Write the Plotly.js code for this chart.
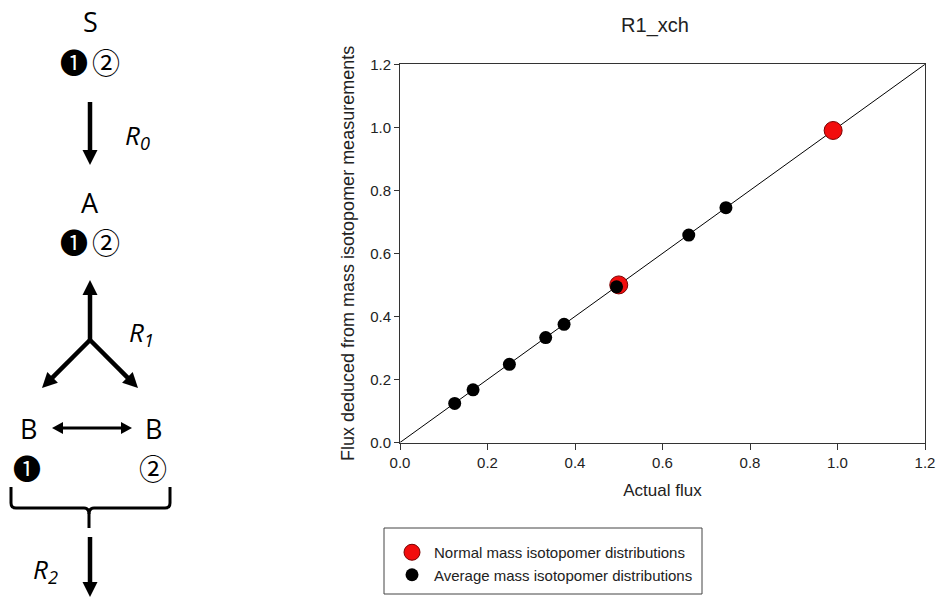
<!DOCTYPE html>
<html>
<head>
<meta charset="utf-8">
<script src="https://cdn.plot.ly/plotly-3.0.1.min.js"></script>
<style>html,body{margin:0;padding:0;background:#fff;}#chart{width:937px;height:598px;}</style>
</head>
<body>
<div id="chart"></div>
<script>
// ---- data ----
const normalActual = [0.50, 0.99];
const normalDeduced = [0.50, 0.99];
const averageActual = [0.125, 0.167, 0.25, 0.333, 0.375, 0.495, 0.66, 0.745];
const averageDeduced = [0.124, 0.167, 0.248, 0.333, 0.375, 0.494, 0.658, 0.745];
const identityLine = [0, 1.2];
const tickValues = [0, 0.2, 0.4, 0.6, 0.8, 1.0, 1.2];
const tickLabels = ['0.0', '0.2', '0.4', '0.6', '0.8', '1.0', '1.2'];
const seriesNames = ['Normal mass isotopomer distributions', 'Average mass isotopomer distributions'];

// ---- helpers for the pathway diagram (pixel -> paper) ----
const W = 937, H = 598;
const px = x => x / W, py = y => 1 - y / H;
function seg(x1, y1, x2, y2, w) {
  return {type: 'line', xref: 'paper', yref: 'paper', x0: px(x1), y0: py(y1), x1: px(x2), y1: py(y2),
          line: {color: '#000', width: w}, layer: 'above'};
}
function tri(xt, yt, dx, dy, len, hw) {
  const bx = xt - dx * len, by = yt - dy * len, nx = -dy, ny = dx;
  const a = [bx + nx * hw / 2, by + ny * hw / 2], b = [bx - nx * hw / 2, by - ny * hw / 2];
  return {type: 'path', xref: 'paper', yref: 'paper',
          path: `M${px(xt)},${py(yt)} L${px(a[0])},${py(a[1])} L${px(b[0])},${py(b[1])} Z`,
          fillcolor: '#000', line: {color: '#000', width: 0}, layer: 'above'};
}
function arrow(x1, y1, x2, y2, w, len, hw, both) {
  const L = Math.hypot(x2 - x1, y2 - y1), dx = (x2 - x1) / L, dy = (y2 - y1) / L;
  const out = [];
  const sx = both ? x1 + dx * (len - 1) : x1, sy = both ? y1 + dy * (len - 1) : y1;
  out.push(seg(sx, sy, x2 - dx * (len - 1), y2 - dy * (len - 1), w));
  out.push(tri(x2, y2, dx, dy, len, hw));
  if (both) out.push(tri(x1, y1, -dx, -dy, len, hw));
  return out;
}
function txt(x, y, text, size, family, extra) {
  return Object.assign({xref: 'paper', yref: 'paper', x: px(x), y: py(y), text: text, showarrow: false,
          xanchor: 'center', yanchor: 'middle', font: {family: family, size: size, color: '#000'}}, extra || {});
}
const DF = 'Open Sans, Noto Sans, sans-serif';
const CF = 'Noto Sans CJK JP, DejaVu Sans, sans-serif';

let shapes = [];
shapes = shapes.concat(arrow(90, 102, 90, 165, 4.5, 15, 15));
shapes = shapes.concat(arrow(90, 341, 90, 280, 4.5, 15, 15));
shapes = shapes.concat(arrow(90, 340, 42, 388, 4.5, 15, 15));
shapes = shapes.concat(arrow(90, 340, 138, 388, 4.5, 15, 15));
shapes = shapes.concat(arrow(52, 428, 132, 428, 3, 11, 12, true));
shapes = shapes.concat(arrow(90, 537, 90, 597, 4.5, 15, 15));
// brace
shapes.push({type: 'path', xref: 'paper', yref: 'paper', layer: 'above',
  path: `M${px(11)},${py(487)} L${px(11)},${py(503)} Q${px(11)},${py(508)} ${px(16)},${py(508)} L${px(84)},${py(508)} Q${px(89)},${py(508)} ${px(89)},${py(514)} L${px(89)},${py(528)}`,
  line: {color: '#000', width: 3}});
shapes.push({type: 'path', xref: 'paper', yref: 'paper', layer: 'above',
  path: `M${px(170)},${py(487)} L${px(170)},${py(503)} Q${px(170)},${py(508)} ${px(165)},${py(508)} L${px(94)},${py(508)} Q${px(89)},${py(508)} ${px(89)},${py(514)}`,
  line: {color: '#000', width: 3}});
// legend box
shapes.push({type: 'rect', xref: 'paper', yref: 'paper', x0: px(384), y0: py(528), x1: px(702), y1: py(594),
  line: {color: '#444', width: 1}, fillcolor: 'rgba(0,0,0,0)'});

const annotations = [
  txt(90, 22, 'S', 27, DF),
  txt(74, 62, '\u2776', 28, CF), txt(106, 62, '\u2461', 28, CF),
  txt(137, 136, '<i>R<sub>0</sub></i>', 26, DF),
  txt(90, 202, 'A', 27, DF),
  txt(74, 242, '\u2776', 28, CF), txt(106, 242, '\u2461', 28, CF),
  txt(141, 333, '<i>R<sub>1</sub></i>', 26, DF),
  txt(28, 428, 'B', 27, DF), txt(153, 428, 'B', 27, DF),
  txt(27, 468, '\u2776', 28, CF), txt(153, 468, '\u2461', 28, CF),
  txt(45, 570, '<i>R<sub>2</sub></i>', 26, DF)
];

const PF = 'Liberation Sans, Arial, sans-serif';
const traces = [
  {x: identityLine, y: identityLine, type: 'scatter', mode: 'lines', showlegend: false, hoverinfo: 'skip',
   line: {color: '#000', width: 1}},
  {x: normalActual, y: normalDeduced, type: 'scatter', mode: 'markers', name: seriesNames[0], legendgroup: 'a',
   marker: {color: '#f20d0d', size: 18, line: {color: '#7a0000', width: 1}}},
  {x: averageActual, y: averageDeduced, type: 'scatter', mode: 'markers', name: seriesNames[1], legendgroup: 'b',
   marker: {color: '#000', size: 13, line: {color: '#000', width: 0}}}
];

const axisCommon = {
  range: [0, 1.2], tickmode: 'array', tickvals: tickValues, ticktext: tickLabels,
  showgrid: false, zeroline: false, showline: true, mirror: true, linecolor: '#333', linewidth: 1,
  ticks: 'outside', tickcolor: '#333', ticklen: 5, tickwidth: 1,
  tickfont: {family: PF, size: 15, color: '#222'}, fixedrange: true
};

const layout = {
  width: W, height: H, autosize: false,
  margin: {l: 0, r: 0, t: 0, b: 0, pad: 0},
  paper_bgcolor: '#fff', plot_bgcolor: '#fff',
  font: {family: PF, color: '#222'},
  title: {text: 'R1_xch', x: 655 / W, xanchor: 'center', y: py(25), yanchor: 'middle', yref: 'paper',
          font: {family: PF, size: 20, color: '#222'}},
  xaxis: Object.assign({}, axisCommon, {domain: [400 / W, 925 / W], anchor: 'y', ticklen: 6,
          title: {text: 'Actual flux', font: {family: PF, size: 17, color: '#222'}, standoff: 14}}),
  yaxis: Object.assign({}, axisCommon, {domain: [py(442.5), py(64.3)], anchor: 'x',
          title: {text: 'Flux deduced from mass isotopomer measurements', font: {family: PF, size: 18, color: '#222'}, standoff: 10}}),
  showlegend: true,
  legend: {x: px(390), xanchor: 'left', y: py(536), yanchor: 'top', bgcolor: 'rgba(0,0,0,0)', borderwidth: 0,
           font: {family: PF, size: 15, color: '#222'}, itemwidth: 34, tracegroupgap: 3, traceorder: 'normal'},
  shapes: shapes,
  annotations: annotations
};

Plotly.newPlot('chart', traces, layout, {displayModeBar: false, staticPlot: true});
</script>
</body>
</html>
